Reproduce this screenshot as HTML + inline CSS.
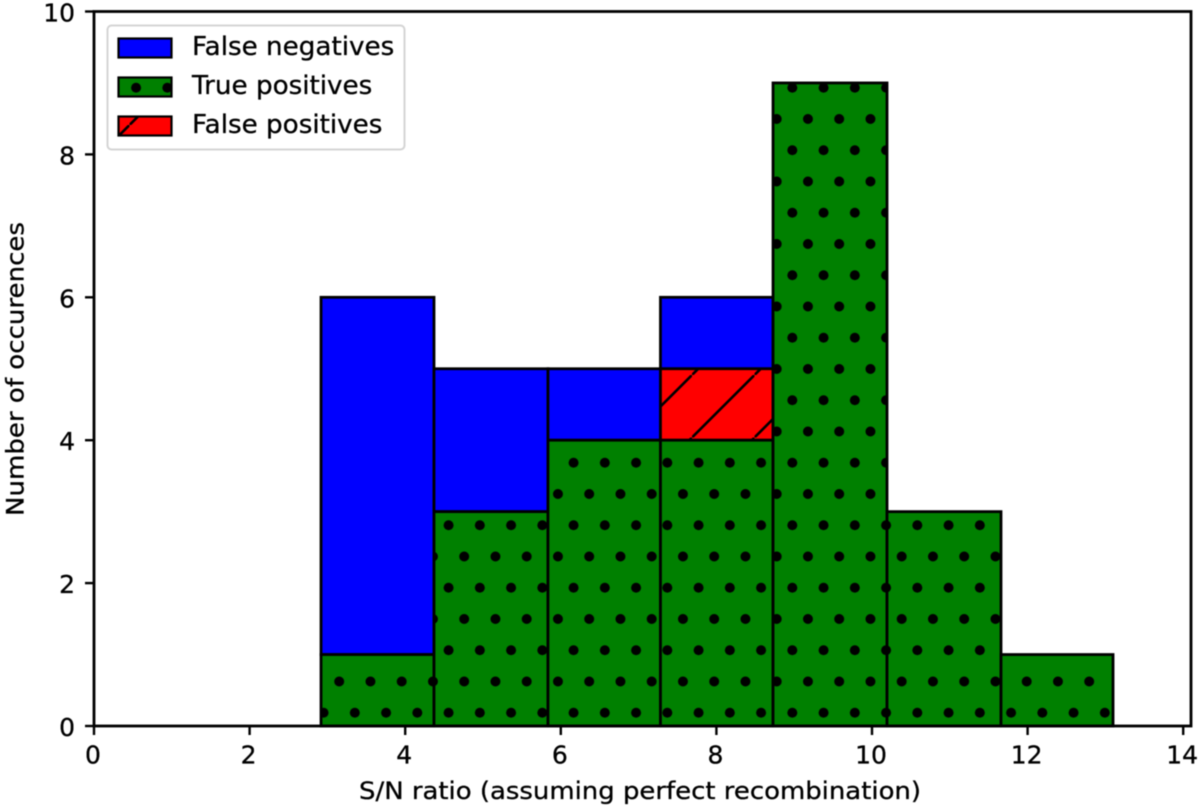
<!DOCTYPE html>
<html lang="en">
<head>
<meta charset="utf-8">
<title>Histogram of occurrences by S/N ratio</title>
<style>
html,body{margin:0;padding:0;background:#fff;}
body{width:1200px;height:810px;overflow:hidden;}
svg{display:block;filter:blur(0.55px);}
text{font-family:"DejaVu Sans","Liberation Sans",sans-serif;fill:#000;stroke:#000;stroke-width:0.3px;}
</style>
</head>
<body>
<svg id="chart" xmlns="http://www.w3.org/2000/svg" width="1200" height="810" viewBox="0 0 1200 810">
  <defs>
    <pattern id="dots" patternUnits="userSpaceOnUse" x="776.7" y="72.1" width="31.25" height="62.5">
      <circle cx="15.625" cy="15.6" r="5" fill="#000"/>
      <circle cx="0" cy="46.85" r="5" fill="#000"/>
      <circle cx="31.25" cy="46.85" r="5" fill="#000"/>
    </pattern>
    <pattern id="hatch" patternUnits="userSpaceOnUse" x="4.5" y="0" width="62.5" height="62.5">
      <line x1="-5" y1="67.5" x2="67.5" y2="-5" stroke="#000" stroke-width="2.6"/>
    </pattern>
  </defs>
  <rect x="0" y="0" width="1200" height="810" fill="#fff"/>
  <g id="bars"></g>
  <g id="axes"></g>
  <g>
    <rect x="107.5" y="25.5" width="297" height="124" rx="4" fill="#fff" fill-opacity="0.9" stroke="#d4d4d4" stroke-width="2"/>
    <rect x="118.5" y="38.5" width="53" height="19" fill="#0000ff" stroke="#000" stroke-width="2.2"/>
    <text x="192" y="55" font-size="26.2">False negatives</text>
    <rect x="118.5" y="77.5" width="53" height="19" fill="#008000"/>
    <rect x="118.5" y="77.5" width="53" height="19" fill="url(#dots)" stroke="#000" stroke-width="2.2"/>
    <text x="192" y="94" font-size="26.2">True positives</text>
    <rect x="118.5" y="116.5" width="53" height="19" fill="#ff0000"/>
    <rect x="118.5" y="116.5" width="53" height="19" fill="url(#hatch)" stroke="#000" stroke-width="2.2"/>
    <text x="192" y="133" font-size="26.2">False positives</text>
  </g>
</svg>
<script>
const binEdges = [2.918, 4.37, 5.835, 7.281, 8.728, 10.193, 11.658, 13.098];
const truePositives = [1, 3, 4, 4, 9, 3, 1];
const falsePositives = [0, 0, 0, 1, 0, 0, 0];
const falseNegatives = [5, 2, 1, 1, 0, 0, 0];
const xTickLabels = [0, 2, 4, 6, 8, 10, 12, 14];
const yTickLabels = [0, 2, 4, 6, 8, 10];
const xAxisTitle = 'S/N ratio (assuming perfect recombination)';
const yAxisTitle = 'Number of occurences';

const NS = 'http://www.w3.org/2000/svg';
const plot = { left: 94, right: 1191, top: 11.5, bottom: 726 };
function xScale(v) { return 94 + 77.8 * v; }
function yScale(v) { return 726 - 71.45 * v; }
function make(tag, attrs, parent) {
  const el = document.createElementNS(NS, tag);
  for (const k in attrs) el.setAttribute(k, attrs[k]);
  parent.appendChild(el);
  return el;
}

const barsGroup = document.getElementById('bars');
const axesGroup = document.getElementById('axes');

function drawSegment(i, from, to, fill, overlay, seriesName) {
  if (to <= from) return;
  const x0 = xScale(binEdges[i]);
  const x1 = xScale(binEdges[i + 1]);
  const geom = { x: x0, y: yScale(to), width: x1 - x0, height: yScale(from) - yScale(to) };
  const base = make('rect', Object.assign({ fill: fill }, geom), barsGroup);
  
  
  const top = make('rect', Object.assign({ fill: overlay || 'none', stroke: '#000', 'stroke-width': 2.8 }, geom), barsGroup);
  
  
}

truePositives.forEach(function (tp, i) {
  const fp = falsePositives[i];
  const fn = falseNegatives[i];
  drawSegment(i, tp + fp, tp + fp + fn, '#0000ff', null, 'false-negatives');
  drawSegment(i, tp, tp + fp, '#ff0000', 'url(#hatch)', 'false-positives');
  drawSegment(i, 0, tp, '#008000', 'url(#dots)', 'true-positives');
});

const frame = make('rect', {
  x: plot.left, y: plot.top,
  width: plot.right - plot.left, height: plot.bottom - plot.top,
  fill: 'none', stroke: '#000', 'stroke-width': 2.8
}, axesGroup);



xTickLabels.forEach(function (v) {
  const x = xScale(v);
  const tick = make('line', { x1: x, x2: x, y1: plot.bottom, y2: plot.bottom + 9, stroke: '#000', 'stroke-width': 2.4 }, axesGroup);
  
  
  const label = make('text', { x: x - 1, y: 763.5, 'font-size': 25, 'text-anchor': 'middle' }, axesGroup);
  
  
  label.textContent = v;
});

yTickLabels.forEach(function (v) {
  const y = yScale(v);
  const tick = make('line', { x1: plot.left - 9, x2: plot.left, y1: y, y2: y, stroke: '#000', 'stroke-width': 2.4 }, axesGroup);
  
  
  const label = make('text', { x: 75, y: y + 10, 'font-size': 25, 'text-anchor': 'end' }, axesGroup);
  
  
  label.textContent = v;
});

const xTitle = make('text', { x: 640, y: 799, 'font-size': 24, 'text-anchor': 'middle', textLength: 562, lengthAdjust: 'spacingAndGlyphs' }, axesGroup);


xTitle.textContent = xAxisTitle;

const yTitle = make('text', { x: 0, y: 0, 'font-size': 24, 'text-anchor': 'middle', textLength: 294, lengthAdjust: 'spacingAndGlyphs', transform: 'translate(23.5 369) rotate(-90)' }, axesGroup);


yTitle.textContent = yAxisTitle;
</script>
</body>
</html>
